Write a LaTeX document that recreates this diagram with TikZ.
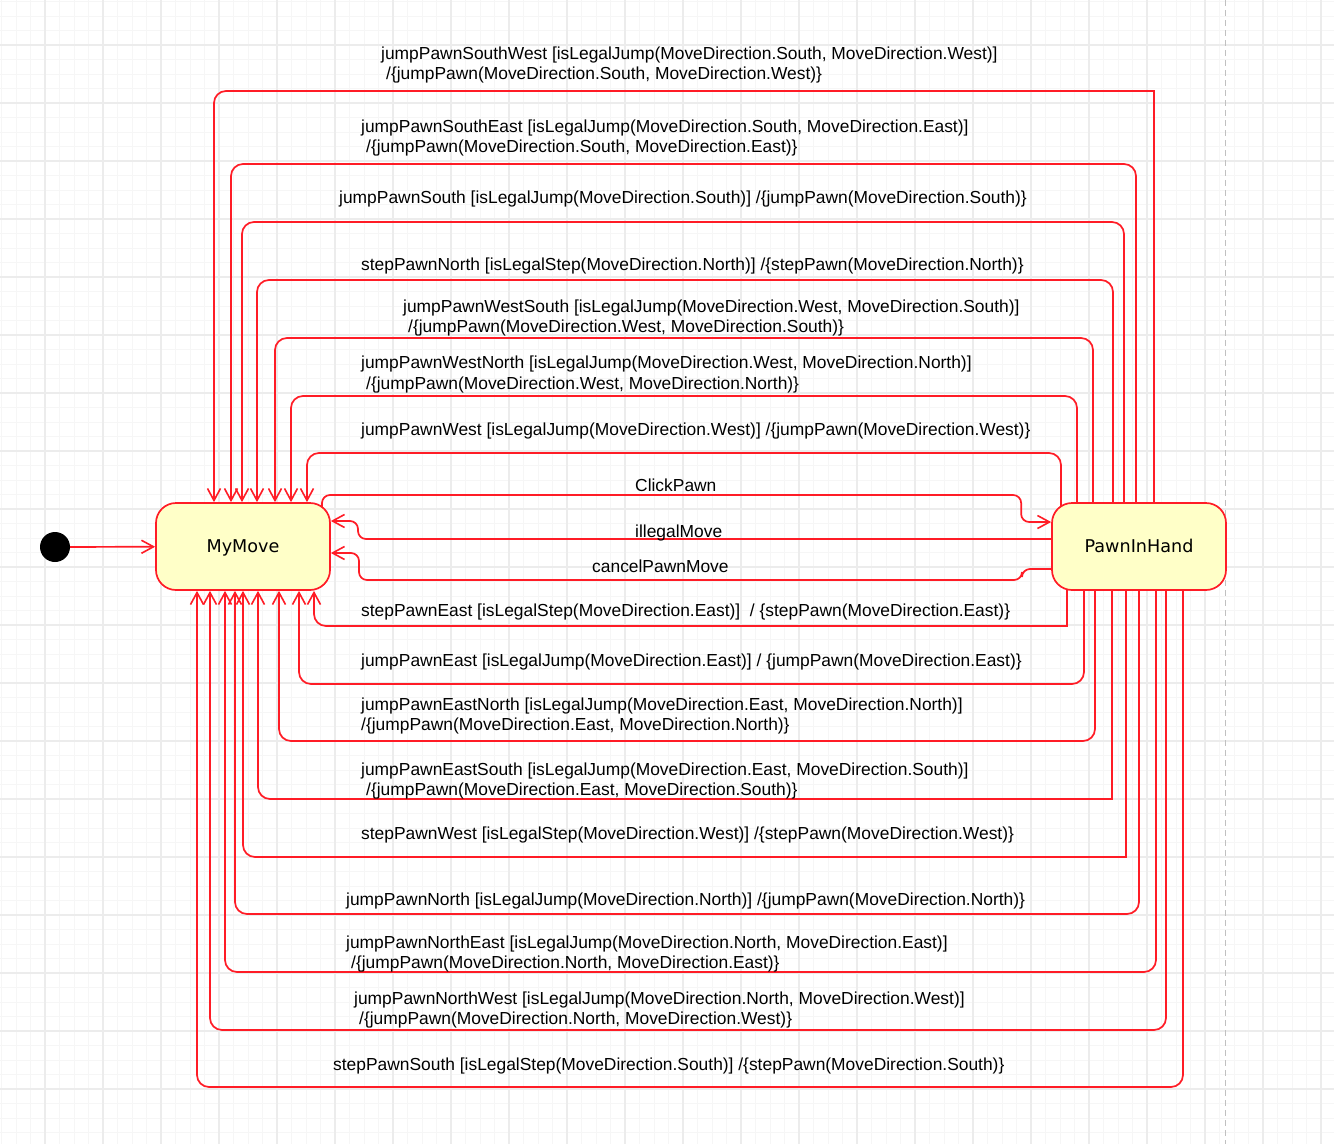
\documentclass[tikz,border=0pt]{standalone}
\usepackage{fontspec}
\setmainfont{Liberation Sans}
\newfontfamily\statefont{DejaVu Sans}
\usetikzlibrary{arrows.meta}
\pgfdeclarelayer{gridlayer}
\pgfdeclarelayer{edgelayer}
\pgfsetlayers{gridlayer,edgelayer,main}
\definecolor{tred}{RGB}{255,28,38}
\definecolor{stfill}{RGB}{255,255,200}
\definecolor{gminor}{RGB}{246,246,246}
\definecolor{gmajor}{RGB}{236,236,236}
\definecolor{dashgray}{RGB}{192,192,192}
\begin{document}
\begin{tikzpicture}[x=1pt,y=-1pt,
  statebox/.style={draw=tred, fill=stfill, line width=1.7pt, rounded corners=20pt,
    minimum width=174pt, minimum height=87pt, inner sep=0pt,
    text height=16pt, text depth=3.4pt,
    font=\statefont\fontsize{17.6}{20}\selectfont},
  tr/.style={draw=tred, line width=1.7pt, rounded corners=12pt,
    -{Straight Barb[length=12pt,width=13pt,line width=1.6pt]}},
  lbl/.style={anchor=base west, inner sep=0pt, font=\fontsize{17.4}{20}\selectfont},
  minorline/.style={draw=gminor, line width=1pt},
  majorline/.style={draw=gmajor, line width=1.2pt}
]
\useasboundingbox (0,0) rectangle (1334,1144);
\begin{pgfonlayer}{gridlayer}
  \fill[white] (0,0) rectangle (1334,1144);
  \foreach \i in {0,...,91} \draw[minorline] (1.5+\i*14.5,0) -- (1.5+\i*14.5,1144);
  \foreach \i in {0,...,78} \draw[minorline] (0,1.5+\i*14.5) -- (1334,1.5+\i*14.5);
  \foreach \k in {0,...,23} \draw[majorline] (-13+\k*58,0) -- (-13+\k*58,1144);
  \foreach \k in {0,...,20} \draw[majorline] (0,-13+\k*58) -- (1334,-13+\k*58);
  \draw[dashgray, line width=1.5pt, dash pattern=on 6pt off 4pt] (1225.5,0) -- (1225.5,1144);
\end{pgfonlayer}

\node[statebox] (MyMove) at (243,546.5) {MyMove};
\node[statebox] (PawnInHand) at (1139,546.5) {PawnInHand};
\node[circle, fill=black, minimum size=30pt, inner sep=0pt] (init) at (55,547) {};

\begin{pgfonlayer}{edgelayer}
  \draw[tr] (init) -- (MyMove);
  % upper loops
  \draw[tr] ([xshift=15pt]PawnInHand.center) [sharp corners] |- (700,91) [rounded corners=12pt] -| ([xshift=-29pt]MyMove.north);
  \draw[tr] ([xshift=-3pt]PawnInHand.center) |- (700,164) -| ([xshift=-12pt]MyMove.north);
  \draw[tr] ([xshift=-15pt]PawnInHand.center) |- (700,222) -| ([xshift=-1pt]MyMove.north);
  \draw[tr] ([xshift=-26pt]PawnInHand.center) |- (700,280) -| ([xshift=14pt]MyMove.north);
  \draw[tr] ([xshift=-46pt]PawnInHand.center) |- (700,338) -| ([xshift=32pt]MyMove.north);
  \draw[tr] ([xshift=-62pt]PawnInHand.center) |- (700,396) -| ([xshift=48pt]MyMove.north);
  \draw[tr] ([xshift=-78pt]PawnInHand.center) |- (700,453) -| ([xshift=64pt]MyMove.north);
  % middle transitions
  \draw[tr, rounded corners=8pt] ([xshift=79pt]MyMove.center) |- (700,495) -| ([xshift=-30pt,yshift=24.5pt]PawnInHand.west) -- ([yshift=24.5pt]PawnInHand.west);
  \draw[tr, rounded corners=8pt] ([yshift=7.5pt]PawnInHand.center) -- (358,539) |- ([yshift=25.5pt]MyMove.east);
  \draw[tr, rounded corners=8pt] ([yshift=-22.5pt]PawnInHand.center) -- (1022,569) -- (1022,580) -- (359,580) |- ([yshift=-6.5pt]MyMove.east);
  % lower loops
  \draw[tr] ([xshift=-72pt]PawnInHand.center) [sharp corners] |- (700,626) [rounded corners=12pt] -| ([xshift=71pt]MyMove.south);
  \draw[tr] ([xshift=-55pt]PawnInHand.center) |- (700,684) -| ([xshift=56pt]MyMove.south);
  \draw[tr] ([xshift=-44pt]PawnInHand.center) |- (700,741) -| ([xshift=36pt]MyMove.south);
  \draw[tr] ([xshift=-27pt]PawnInHand.center) [sharp corners] |- (700,799) [rounded corners=12pt] -| ([xshift=15pt]MyMove.south);
  \draw[tr] ([xshift=-13pt]PawnInHand.center) [sharp corners] |- (700,857) [rounded corners=12pt] -| ([xshift=0pt]MyMove.south);
  \draw[tr] ([xshift=0pt]PawnInHand.center) |- (700,914) -| ([xshift=-8pt]MyMove.south);
  \draw[tr] ([xshift=17pt]PawnInHand.center) |- (700,972) -| ([xshift=-18pt]MyMove.south);
  \draw[tr] ([xshift=27pt]PawnInHand.center) |- (700,1030) -| ([xshift=-33pt]MyMove.south);
  \draw[tr] ([xshift=44pt]PawnInHand.center) |- (700,1087) -| ([xshift=-46pt]MyMove.south);
\end{pgfonlayer}

% labels
\node[lbl] (l1a) at (381,59) {jumpPawnSouthWest [isLegalJump(MoveDirection.South, MoveDirection.West)]};
\node[lbl] (l1b) at (386,79) {/\{jumpPawn(MoveDirection.South, MoveDirection.West)\}};
\node[lbl] (l2a) at (361,132) {jumpPawnSouthEast [isLegalJump(MoveDirection.South, MoveDirection.East)]};
\node[lbl] (l2b) at (366,152) {/\{jumpPawn(MoveDirection.South, MoveDirection.East)\}};
\node[lbl] (l3) at (339,203) {jumpPawnSouth [isLegalJump(MoveDirection.South)] /\{jumpPawn(MoveDirection.South)\}};
\node[lbl] (l4) at (361,270) {stepPawnNorth [isLegalStep(MoveDirection.North)] /\{stepPawn(MoveDirection.North)\}};
\node[lbl] (l5a) at (403,312) {jumpPawnWestSouth [isLegalJump(MoveDirection.West, MoveDirection.South)]};
\node[lbl] (l5b) at (408,332) {/\{jumpPawn(MoveDirection.West, MoveDirection.South)\}};
\node[lbl] (l6a) at (361,368) {jumpPawnWestNorth [isLegalJump(MoveDirection.West, MoveDirection.North)]};
\node[lbl] (l6b) at (366,389) {/\{jumpPawn(MoveDirection.West, MoveDirection.North)\}};
\node[lbl] (l7) at (361,435) {jumpPawnWest [isLegalJump(MoveDirection.West)] /\{jumpPawn(MoveDirection.West)\}};
\node[lbl] (l8) at (635,491) {ClickPawn};
\node[lbl] (l9) at (635,537) {illegalMove};
\node[lbl] (l10) at (592,572) {cancelPawnMove};
\node[lbl] (l11) at (361,616) {stepPawnEast [isLegalStep(MoveDirection.East)]\ \ / \{stepPawn(MoveDirection.East)\}};
\node[lbl] (l12) at (361,666) {jumpPawnEast [isLegalJump(MoveDirection.East)] / \{jumpPawn(MoveDirection.East)\}};
\node[lbl] (l13a) at (361,710) {jumpPawnEastNorth [isLegalJump(MoveDirection.East, MoveDirection.North)]};
\node[lbl] (l13b) at (361,730) {/\{jumpPawn(MoveDirection.East, MoveDirection.North)\}};
\node[lbl] (l14a) at (361,775) {jumpPawnEastSouth [isLegalJump(MoveDirection.East, MoveDirection.South)]};
\node[lbl] (l14b) at (366,795) {/\{jumpPawn(MoveDirection.East, MoveDirection.South)\}};
\node[lbl] (l15) at (361,839) {stepPawnWest [isLegalStep(MoveDirection.West)] /\{stepPawn(MoveDirection.West)\}};
\node[lbl] (l16) at (346,905) {jumpPawnNorth [isLegalJump(MoveDirection.North)] /\{jumpPawn(MoveDirection.North)\}};
\node[lbl] (l17a) at (346,948) {jumpPawnNorthEast [isLegalJump(MoveDirection.North, MoveDirection.East)]};
\node[lbl] (l17b) at (351,968) {/\{jumpPawn(MoveDirection.North, MoveDirection.East)\}};
\node[lbl] (l18a) at (354,1004) {jumpPawnNorthWest [isLegalJump(MoveDirection.North, MoveDirection.West)]};
\node[lbl] (l18b) at (359,1024) {/\{jumpPawn(MoveDirection.North, MoveDirection.West)\}};
\node[lbl] (l19) at (333,1070) {stepPawnSouth [isLegalStep(MoveDirection.South)] /\{stepPawn(MoveDirection.South)\}};
\end{tikzpicture}
\end{document}
